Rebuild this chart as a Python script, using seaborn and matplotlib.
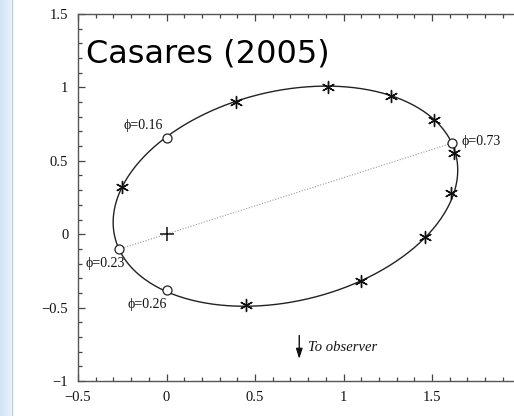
import numpy as np
import pandas as pd
import matplotlib
matplotlib.use("Agg")
import matplotlib.pyplot as plt
from matplotlib.ticker import MultipleLocator
import seaborn as sns

# Radial-velocity orbit of the companion, projected on the sky plane
orbit_center = (0.672, 0.259)
orbit_a = 1.007
orbit_b = 0.704
orbit_tilt_deg = 21.0

# Individual epochs (asterisks)
epoch_x = [-0.25, 0.39, 0.91, 1.27, 1.51, 1.625, 1.61, 1.46, 1.10, 0.45]
epoch_y = [0.32, 0.90, 1.00, 0.94, 0.78, 0.55, 0.28, -0.02, -0.32, -0.48]

# Marked orbital phases (open circles)
phase_names = ["\u03d5=0.16", "\u03d5=0.23", "\u03d5=0.26", "\u03d5=0.73"]
phase_x = [0.0, -0.268, 0.0, 1.612]
phase_y = [0.655, -0.102, -0.38, 0.620]
label_x = [-0.02, -0.46, -0.22, 1.665]
label_y = [0.74, -0.20, -0.48, 0.63]
label_ha = ["right", "left", "left", "left"]

# Centre of mass
com_x, com_y = 0.0, 0.0

xticks = [-0.5, 0, 0.5, 1, 1.5]
xtick_labels = ["\u22120.5", "0", "0.5", "1", "1.5"]
yticks = [-1, -0.5, 0, 0.5, 1, 1.5]
ytick_labels = ["\u22121", "\u22120.5", "0", "0.5", "1", "1.5"]

sns.set_theme(style="ticks")
serif = ["Liberation Serif", "DejaVu Serif"]
plt.rcParams["font.family"] = serif

W, H = 514, 416
fig = plt.figure(figsize=(W / 100, H / 100), dpi=100)
fig.patch.set_facecolor("white")

# pale blue band on the left edge
band = fig.add_axes([0, 0, 11 / W, 1])
grad = np.linspace(0, 1, 64)[None, :]
band.imshow(grad, aspect="auto", cmap=matplotlib.colors.LinearSegmentedColormap.from_list(
    "band", ["#d2e4f8", "#e6f0fc"]), extent=[0, 1, 0, 1])
band.axis("off")
fig.add_artist(plt.Line2D([11.5 / W, 11.5 / W], [0, 1], color="#b4cbe6", lw=1.0,
                          transform=fig.transFigure))

left_px, right_px = 78, 520.5
bottom_px, top_px = 381, 14
ax = fig.add_axes([left_px / W, 1 - bottom_px / H,
                   (right_px - left_px) / W, (bottom_px - top_px) / H])
ax.set_facecolor("white")

# orbit curve
t = np.linspace(0, 2 * np.pi, 400)
th = np.deg2rad(orbit_tilt_deg)
ox = orbit_center[0] + orbit_a * np.cos(t) * np.cos(th) - orbit_b * np.sin(t) * np.sin(th)
oy = orbit_center[1] + orbit_a * np.cos(t) * np.sin(th) + orbit_b * np.sin(t) * np.cos(th)
orbit = pd.DataFrame({"x": ox, "y": oy})
sns.lineplot(data=orbit, x="x", y="y", sort=False, estimator=None, color="#222222",
             lw=1.0, ax=ax)

# line of apsides through the centre of mass
ax.plot([phase_x[1], phase_x[3]], [phase_y[1], phase_y[3]], ls=(0, (1, 1.5)),
        color="#9a9a9a", lw=0.8, zorder=1)

epochs = pd.DataFrame({"x": epoch_x, "y": epoch_y})
sns.scatterplot(data=epochs, x="x", y="y", marker=(6, 2, 0), s=75, color="#111111",
                linewidth=1.0, ax=ax, zorder=4)

phases = pd.DataFrame({"x": phase_x, "y": phase_y})
sns.scatterplot(data=phases, x="x", y="y", marker="o", s=42, facecolor="white",
                edgecolor="#222222", linewidth=0.9, ax=ax, zorder=5)

ax.plot([com_x], [com_y], marker="+", ms=10, mew=1.1, color="#111111", ls="none", zorder=4)

for name, lx, ly, ha in zip(phase_names, label_x, label_y, label_ha):
    ax.text(lx, ly, name, ha=ha, va="center", fontsize=10, family=serif, color="#111111")

ax.annotate("", xy=(0.75, -0.85), xytext=(0.75, -0.69),
            arrowprops=dict(arrowstyle="-|>,head_length=0.5,head_width=0.16",
                            color="#111111", lw=1.0, shrinkA=0, shrinkB=0))
ax.text(0.80, -0.775, "To observer", style="italic", fontsize=10.5, family=serif,
        ha="left", va="center", color="#111111")

ax.text(-0.455, 1.173, "Casares (2005)", family=["DejaVu Sans"], fontsize=23,
        ha="left", va="baseline", color="black")

ax.set_xlim(-0.5, 2.0)
ax.set_ylim(-1, 1.5)
ax.set_xticks(xticks)
ax.set_xticklabels(xtick_labels)
ax.set_yticks(yticks)
ax.set_yticklabels(ytick_labels)
ax.xaxis.set_minor_locator(MultipleLocator(0.1))
ax.yaxis.set_minor_locator(MultipleLocator(0.1))
ax.set_xlabel("")
ax.set_ylabel("")
ax.tick_params(which="both", direction="in", top=True, right=True, colors="#444444",
               labelcolor="#111111", labelsize=10.5, width=0.9)
ax.tick_params(which="major", length=5, pad=7)
ax.tick_params(which="minor", length=3)
for s in ax.spines.values():
    s.set_color("#555555")
    s.set_linewidth(1.0)
for lab in ax.get_xticklabels() + ax.get_yticklabels():
    lab.set_family(serif)

fig.savefig("out.png", dpi=100, facecolor="white")
